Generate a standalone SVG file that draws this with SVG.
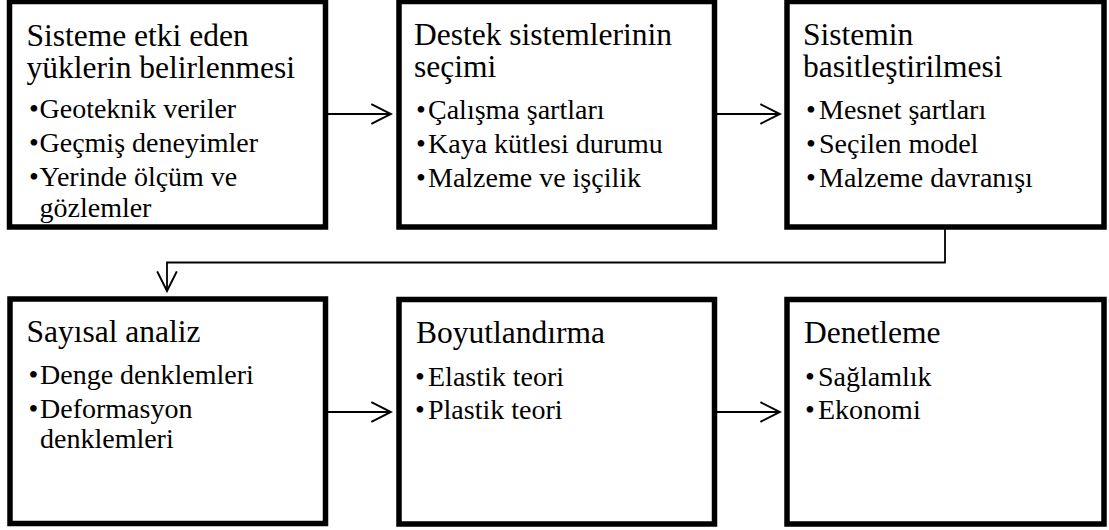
<svg xmlns="http://www.w3.org/2000/svg" width="1109" height="530" viewBox="0 0 1109 530">
<style>
.box{fill:#fff;stroke:#000;stroke-width:5.5}
text{font-family:'Liberation Serif','DejaVu Serif',serif;fill:#000}
.t{font-size:31.5px}
.b{font-size:28px}
.c{fill:none;stroke:#000;stroke-width:1.8}
</style>
<defs>
<marker id="ah" markerUnits="userSpaceOnUse" markerWidth="24" markerHeight="24" viewBox="-20 -11 22 22" refX="0" refY="0" orient="auto">
<path d="M-18,-9 L0,0 L-18,9" fill="none" stroke="#000" stroke-width="1.8"/>
</marker>
</defs>
<rect width="1109" height="530" fill="#fff"/>
<g id="connectors">
<path class="c" d="M328,114 H391" marker-end="url(#ah)"/>
<path class="c" d="M717,114 H780" marker-end="url(#ah)"/>
<path class="c" d="M945,229 V262.5 H167 V291" marker-end="url(#ah)"/>
<path class="c" d="M328,412 H391" marker-end="url(#ah)"/>
<path class="c" d="M717,412 H780" marker-end="url(#ah)"/>
</g>
<g id="n1" font-family="Liberation Serif, serif">
<rect class="box" x="9.5" y="1.5" width="316" height="225.5"/>
<text class="t" x="26.5" y="46">Sisteme etki eden</text>
<text class="t" x="26.5" y="78">yüklerin belirlenmesi</text>
<text class="b" x="29" y="118">•</text><text class="b" x="39.5" y="118">Geoteknik veriler</text>
<text class="b" x="29" y="152">•</text><text class="b" x="39.5" y="152">Geçmiş deneyimler</text>
<text class="b" x="29" y="186">•</text><text class="b" x="39.5" y="186">Yerinde ölçüm ve</text>
<text class="b" x="39.5" y="217">gözlemler</text>
</g>
<g id="n2">
<rect class="box" x="399" y="1.5" width="315.5" height="225.5"/>
<text class="t" x="414" y="45">Destek sistemlerinin</text>
<text class="t" x="414" y="77">seçimi</text>
<text class="b" x="416" y="119">•</text><text class="b" x="428" y="119">Çalışma şartları</text>
<text class="b" x="416" y="153">•</text><text class="b" x="428" y="153">Kaya kütlesi durumu</text>
<text class="b" x="416" y="187">•</text><text class="b" x="428" y="187">Malzeme ve işçilik</text>
</g>
<g id="n3">
<rect class="box" x="787" y="1.5" width="317" height="225.5"/>
<text class="t" x="803" y="45">Sistemin</text>
<text class="t" x="803" y="77">basitleştirilmesi</text>
<text class="b" x="806" y="119">•</text><text class="b" x="819" y="119">Mesnet şartları</text>
<text class="b" x="806" y="153">•</text><text class="b" x="819" y="153">Seçilen model</text>
<text class="b" x="806" y="187">•</text><text class="b" x="819" y="187">Malzeme davranışı</text>
</g>
<g id="n4">
<rect class="box" x="10" y="299" width="315.5" height="224.5"/>
<text class="t" x="26.5" y="342">Sayısal analiz</text>
<text class="b" x="28.5" y="384">•</text><text class="b" x="40" y="384">Denge denklemleri</text>
<text class="b" x="28.5" y="418">•</text><text class="b" x="40" y="418">Deformasyon</text>
<text class="b" x="40" y="448">denklemleri</text>
</g>
<g id="n5">
<rect class="box" x="399" y="299.5" width="315.5" height="224.5"/>
<text class="t" x="416" y="343">Boyutlandırma</text>
<text class="b" x="415" y="386">•</text><text class="b" x="428" y="386">Elastik teori</text>
<text class="b" x="415" y="419">•</text><text class="b" x="428" y="419">Plastik teori</text>
</g>
<g id="n6">
<rect class="box" x="787" y="299.5" width="317" height="224.5"/>
<text class="t" x="804" y="343">Denetleme</text>
<text class="b" x="805" y="386">•</text><text class="b" x="818" y="386">Sağlamlık</text>
<text class="b" x="805" y="419">•</text><text class="b" x="818" y="419">Ekonomi</text>
</g>
</svg>
